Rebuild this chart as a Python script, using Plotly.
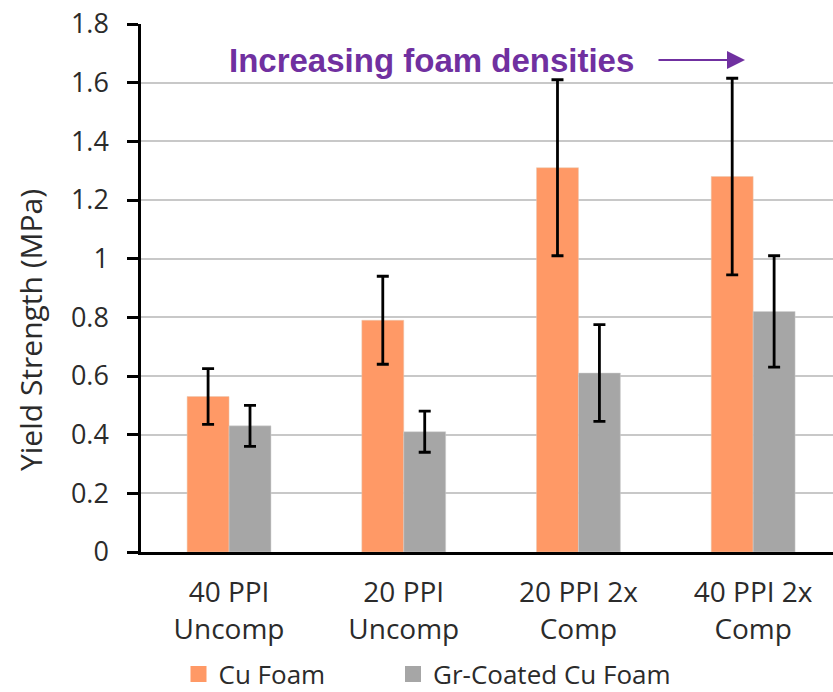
import plotly.graph_objects as go

categories = ["40 PPI<br>Uncomp", "20 PPI<br>Uncomp", "20 PPI 2x<br>Comp", "40 PPI 2x<br>Comp"]
cu_foam = [0.53, 0.79, 1.31, 1.28]
cu_foam_err = [0.095, 0.15, 0.30, 0.335]
gr_foam = [0.43, 0.41, 0.61, 0.82]
gr_foam_err = [0.07, 0.07, 0.165, 0.19]
y_ticks = [0, 0.2, 0.4, 0.6, 0.8, 1, 1.2, 1.4, 1.6, 1.8]
y_tick_text = ["0", "0.2", "0.4", "0.6", "0.8", "1", "1.2", "1.4", "1.6", "1.8"]

FONT = "Open Sans"
TXT = "#2b2b2b"
ORANGE = "#FF9966"
GRAY = "#A6A6A6"

fig = go.Figure()
fig.add_trace(go.Bar(
    name="Cu Foam", x=list(range(4)), y=cu_foam, showlegend=False,
    marker=dict(color=ORANGE, line=dict(color="#E8C8B0", width=0.5)),
    error_y=dict(type="data", array=cu_foam_err, visible=True, color="black", thickness=2.8, width=6),
))
fig.add_trace(go.Bar(
    name="Gr-Coated Cu Foam", x=list(range(4)), y=gr_foam, showlegend=False,
    marker=dict(color=GRAY, line=dict(color="#D0D0D0", width=0.5)),
    error_y=dict(type="data", array=gr_foam_err, visible=True, color="black", thickness=2.8, width=6),
))
# legend entries
fig.add_trace(go.Scatter(
    name="Cu Foam", x=[None], y=[None], mode="markers", legend="legend",
    marker=dict(symbol="square", size=16, color=ORANGE),
))
fig.add_trace(go.Scatter(
    name="Gr-Coated Cu Foam", x=[None], y=[None], mode="markers", legend="legend2",
    marker=dict(symbol="square", size=16, color=GRAY),
))

leg_common = dict(orientation="h", xanchor="left", y=-(674 - 552) / 528, yanchor="middle",
                  font=dict(family=FONT, size=26, color=TXT), bgcolor="rgba(0,0,0,0)")

fig.update_layout(
    width=833, height=692,
    margin=dict(l=141, r=0, t=24, b=140, autoexpand=False),
    paper_bgcolor="white", plot_bgcolor="white",
    barmode="group", bargap=0.52, bargroupgap=0,
    font=dict(family=FONT, size=27, color=TXT),
    showlegend=True,
    legend=dict(x=(178.5 - 141) / 692, **leg_common),
    legend2=dict(x=(393 - 141) / 692, **leg_common),
)
fig.update_xaxes(
    range=[-0.504, 3.457], tickvals=list(range(4)), ticktext=categories,
    showline=True, linecolor="black", linewidth=2.5, ticks="", showgrid=False,
    tickfont=dict(family=FONT, size=28, color=TXT), zeroline=False, ticklabelstandoff=14,
)
fig.update_yaxes(
    range=[0, 1.8], tickvals=y_ticks, ticktext=y_tick_text,
    showline=True, linecolor="black", linewidth=2.5,
    ticks="outside", ticklen=11, tickwidth=2.5, tickcolor="black",
    showgrid=True, gridcolor="#C8C8C8", gridwidth=2, zeroline=False,
    tickfont=dict(family=FONT, size=27, color=TXT), ticklabelstandoff=13,
)

fig.add_annotation(
    text="Yield Strength (MPa)", textangle=-90, xref="paper", yref="paper",
    x=(30 - 141) / 692, y=(552 - 330) / 528, xanchor="center", yanchor="middle", showarrow=False,
    font=dict(family=FONT, size=30, color=TXT),
)
fig.add_annotation(
    text="<b>Increasing foam densities</b>", xref="paper", yref="paper",
    x=(227 - 141) / 692, y=(552 - 60) / 528, xanchor="left", yanchor="middle", showarrow=False,
    font=dict(family="Liberation Sans", size=33, color="#7030A0"),
)
fig.add_annotation(
    text="", xref="paper", yref="paper", axref="pixel", ayref="pixel",
    x=(745 - 141) / 692, y=(552 - 60) / 528, ax=-88, ay=0,
    showarrow=True, arrowhead=2, arrowsize=1.8, arrowwidth=2, arrowcolor="#7030A0",
)

fig.write_html("out.html")
